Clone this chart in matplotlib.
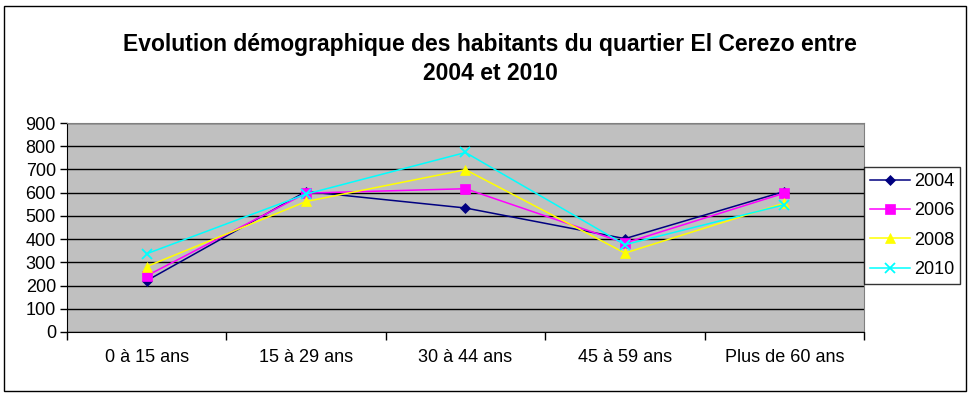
import numpy as np
import matplotlib
matplotlib.use("Agg")
import matplotlib.pyplot as plt
from matplotlib.patches import Rectangle

plt.rcParams['font.family'] = ['Liberation Sans', 'DejaVu Sans']

categories = ["0 à 15 ans", "15 à 29 ans", "30 à 44 ans", "45 à 59 ans", "Plus de 60 ans"]
years = ["2004", "2006", "2008", "2010"]
v2004 = [221, 605, 534, 402, 605]
v2006 = [242, 598, 617, 383, 598]
v2008 = [282, 562, 699, 340, 555]
v2010 = [337, 594, 773, 376, 548]
series = [v2004, v2006, v2008, v2010]
colors = ["#000080", "#FF00FF", "#FFFF00", "#00FFFF"]
markers = ["D", "s", "^", "x"]
msizes = [5.5, 6.5, 7.5, 7.5]

fig = plt.figure(figsize=(9.7, 3.97), dpi=100)
# outer frame of the chart
fig.patches.append(Rectangle((4/970, 6/397), 962/970, 385/397, transform=fig.transFigure,
	fill=False, edgecolor="black", linewidth=1.0))

ax = fig.add_axes([67/970, 65/397, 797/970, 209/397])
ax.set_facecolor("#C0C0C0")

x = np.arange(len(categories)) + 0.5
for vals, yr, c, m, ms in zip(series, years, colors, markers, msizes):
	ax.plot(x, vals, color=c, marker=m, markersize=ms, linewidth=1.1, label=yr,
		markeredgewidth=1.3 if m == "x" else 0.5, markeredgecolor=c, zorder=3)

ax.set_xlim(0, len(categories))
ax.set_ylim(0, 900)
ax.set_yticks(range(0, 901, 100))
ax.yaxis.grid(True, color="black", linewidth=1.0)
ax.set_axisbelow(True)

ax.set_xticks(range(len(categories) + 1))
ax.set_xticklabels([])
ax.set_xticks(x, minor=True)
ax.set_xticklabels(categories, minor=True, fontsize=13)
ax.tick_params(axis="x", which="major", direction="out", length=6, width=1, color="black")
ax.tick_params(axis="x", which="minor", length=0, pad=12)
ax.tick_params(axis="y", direction="out", length=5, width=1, labelsize=13, pad=3)

for s in ["top", "right"]:
	ax.spines[s].set_color("#808080")
for s in ["left", "bottom"]:
	ax.spines[s].set_color("black")

leg = ax.legend(loc="upper left", bbox_to_anchor=(1.0, 0.79), fontsize=13,
	frameon=True, fancybox=False, edgecolor="black", borderaxespad=0,
	handlelength=2.2, handletextpad=0.2, labelspacing=0.68, borderpad=0.35)
leg.get_frame().set_linewidth(1.0)

fig.text(490/970, 1 - 45/397, "Evolution démographique des habitants du quartier El Cerezo entre",
	ha="center", va="center", fontsize=16.5, fontweight="bold")
fig.text(490/970, 1 - 73/397, "2004 et 2010", ha="center", va="center",
	fontsize=16.5, fontweight="bold")

fig.savefig("out.png", dpi=100)
